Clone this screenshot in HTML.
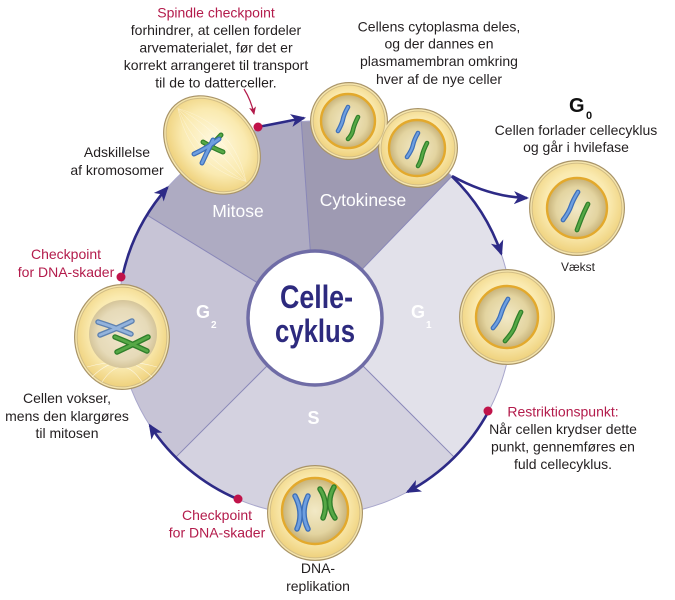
<!DOCTYPE html>
<html><head><meta charset="utf-8">
<style>
html,body{margin:0;padding:0;background:#fff;}
svg{display:block;}
text{font-family:"Liberation Sans",Arial,sans-serif;}
</style></head>
<body>
<svg width="675" height="600" viewBox="0 0 675 600" xmlns="http://www.w3.org/2000/svg">
<defs>
  <radialGradient id="cyt" cx="50%" cy="45%" r="55%">
    <stop offset="0" stop-color="#fff9e0"/>
    <stop offset="0.65" stop-color="#faeab0"/>
    <stop offset="1" stop-color="#efd27e"/>
  </radialGradient>
  <radialGradient id="nuc" cx="50%" cy="50%" r="50%">
    <stop offset="0" stop-color="#f2e9c6"/>
    <stop offset="0.7" stop-color="#e3d4a0"/>
    <stop offset="1" stop-color="#c6b178"/>
  </radialGradient>
  <radialGradient id="nuc2" cx="50%" cy="50%" r="50%">
    <stop offset="0" stop-color="#efe6cc"/>
    <stop offset="0.75" stop-color="#e6dab8"/>
    <stop offset="1" stop-color="#d5c59a"/>
  </radialGradient>
  <marker id="ah" markerWidth="16" markerHeight="14" refX="13" refY="6.5" orient="auto" markerUnits="userSpaceOnUse">
    <path d="M0,0 L15,6.5 L0,13 L4,6.5 Z" fill="#2d2a86"/>
  </marker>
  <marker id="ahr" markerWidth="9" markerHeight="8" refX="7" refY="3.5" orient="auto" markerUnits="userSpaceOnUse">
    <path d="M0,0 L8,3.5 L0,7 L2,3.5 Z" fill="#b31b4b"/>
  </marker>
</defs>

<!-- sectors -->
<path d="M315,318 L147,215.1 A197,197 0 0 1 301.3,121.5 Z" fill="#aeabc2"/>
<path d="M315,318 L301.3,121.5 A197,197 0 0 1 451.9,176.3 Z" fill="#9e9ab2"/>
<path d="M315,318 L451.9,176.3 A197,197 0 0 1 454.3,457.3 Z" fill="#e2e1ea"/>
<path d="M315,318 L454.3,457.3 A197,197 0 0 1 175.7,457.3 Z" fill="#d4d2e0"/>
<path d="M315,318 L175.7,457.3 A197,197 0 0 1 147,215.1 Z" fill="#c7c4d6"/>
<circle cx="315" cy="318" r="197" fill="none" stroke="#a9a7cc" stroke-width="1"/>
<g stroke="#8987b8" stroke-width="1">
  <line x1="315" y1="318" x2="147" y2="215.1"/>
  <line x1="315" y1="318" x2="301.3" y2="121.5"/>
  <line x1="315" y1="318" x2="451.9" y2="176.3"/>
  <line x1="315" y1="318" x2="454.3" y2="457.3"/>
  <line x1="315" y1="318" x2="175.7" y2="457.3"/>
</g>
<circle cx="315" cy="318" r="67" fill="#fff" stroke="#6f6ca6" stroke-width="3.5"/>

<!-- sector labels -->
<g fill="#fff" font-size="17.5">
  <text x="238" y="217" text-anchor="middle">Mitose</text>
  <text x="363" y="206" text-anchor="middle">Cytokinese</text>
  <text x="411" y="318" font-weight="bold" font-size="18">G</text>
  <text x="426" y="328" font-weight="bold" font-size="10">1</text>
  <text x="196" y="318" font-weight="bold" font-size="18">G</text>
  <text x="211" y="328" font-weight="bold" font-size="10">2</text>
  <text x="313.5" y="424" font-weight="bold" font-size="18" text-anchor="middle">S</text>
</g>

<!-- center text -->
<g fill="#2d2a7e" font-weight="bold" font-size="32">
  <text x="280" y="308" textLength="73" lengthAdjust="spacingAndGlyphs">Celle-</text>
  <text x="275" y="342" textLength="80" lengthAdjust="spacingAndGlyphs">cyklus</text>
</g>

<!-- arrows -->
<g fill="none" stroke="#2d2a86" stroke-width="2.6">
  <path d="M122.3,277 A197,197 0 0 1 167.4,187.5" marker-end="url(#ah)"/>
  <path d="M258,127 L304,118" marker-end="url(#ah)"/>
  <path d="M452,176 Q490,197 527,198" marker-end="url(#ah)"/>
  <path d="M451.9,176.3 A197,197 0 0 1 501.3,253.9" marker-end="url(#ah)"/>
  <path d="M488.5,411.4 A197,197 0 0 1 407.5,491.9" marker-end="url(#ah)"/>
  <path d="M238,499.3 A197,197 0 0 1 149.8,425.3" marker-end="url(#ah)"/>
</g>
<path d="M244,89 Q251,100 254,114" fill="none" stroke="#b31b4b" stroke-width="1.2" marker-end="url(#ahr)"/>

<!-- Mitosis cell -->
<g transform="translate(212,145) rotate(47)">
  <ellipse rx="55" ry="43" fill="#a99468"/>
  <ellipse rx="53.8" ry="41.8" fill="#f6e6ae"/>
  <ellipse rx="52.4" ry="40.4" fill="#d2bd85"/>
  <ellipse rx="51.4" ry="39.4" fill="url(#cyt)"/>
  <g stroke="#fff" stroke-width="0.5" fill="none" opacity="0.45">
    <path d="M-50,0 Q0,-30 50,0"/><path d="M-50,0 Q0,-18 50,0"/><path d="M-50,0 L50,0"/>
    <path d="M-50,0 Q0,18 50,0"/><path d="M-50,0 Q0,30 50,0"/>
  </g>
</g>
<g stroke-linecap="round" fill="none">
  <path d="M203,142 Q213,148 223,152" stroke="#2f7f2a" stroke-width="5"/>
  <path d="M221,135 Q212,144 207,152" stroke="#2f7f2a" stroke-width="5"/>
  <path d="M203,142 Q213,148 223,152" stroke="#56a846" stroke-width="2.6"/>
  <path d="M221,135 Q212,144 207,152" stroke="#56a846" stroke-width="2.6"/>
  <path d="M194,154 Q207,148 219,139" stroke="#3d6fb8" stroke-width="5"/>
  <path d="M213,140 Q207,152 202,163" stroke="#3d6fb8" stroke-width="5"/>
  <path d="M194,154 Q207,148 219,139" stroke="#6e9fe0" stroke-width="2.6"/>
  <path d="M213,140 Q207,152 202,163" stroke="#6e9fe0" stroke-width="2.6"/>
</g>

<!-- Cytokinesis cells -->
<g>
  <circle cx="349" cy="121" r="39" fill="#a99468"/><circle cx="418" cy="148" r="40" fill="#a99468"/>
  <circle cx="349" cy="121" r="37.8" fill="#f6e6ae"/><circle cx="418" cy="148" r="38.8" fill="#f6e6ae"/>
  <circle cx="349" cy="121" r="36.4" fill="#d2bd85"/><circle cx="418" cy="148" r="37.4" fill="#d2bd85"/>
  <circle cx="349" cy="121" r="35.4" fill="url(#cyt)"/><circle cx="418" cy="148" r="36.4" fill="url(#cyt)"/>
  <circle cx="348" cy="121" r="27" fill="url(#nuc)" stroke="#e3a92c" stroke-width="2.4"/>
  <circle cx="417" cy="148" r="28" fill="url(#nuc)" stroke="#e3a92c" stroke-width="2.4"/>
  <g stroke-linecap="round" fill="none">
    <path d="M348,107 Q344,114 343,119 T338,131" stroke="#3d6fb8" stroke-width="4.6"/>
    <path d="M348,107 Q344,114 343,119 T338,131" stroke="#6e9fe0" stroke-width="2.2"/>
    <path d="M358,117 Q354,125 353,130 T348,139" stroke="#2f7f2a" stroke-width="4.6"/>
    <path d="M358,117 Q354,125 353,130 T348,139" stroke="#56a846" stroke-width="2.2"/>
    <path d="M418,133 Q414,140 413,145 T407,157" stroke="#3d6fb8" stroke-width="4.6"/>
    <path d="M418,133 Q414,140 413,145 T407,157" stroke="#6e9fe0" stroke-width="2.2"/>
    <path d="M427,143 Q423,151 422,156 T418,166" stroke="#2f7f2a" stroke-width="4.6"/>
    <path d="M427,143 Q423,151 422,156 T418,166" stroke="#56a846" stroke-width="2.2"/>
  </g>
</g>

<!-- G0 cell -->
<g transform="translate(577,208)">
  <circle r="48" fill="#a99468"/><circle r="46.8" fill="#f6e6ae"/><circle r="45.4" fill="#d2bd85"/><circle r="44.4" fill="url(#cyt)"/>
  <circle r="30" fill="url(#nuc)" stroke="#e3a92c" stroke-width="2.4"/>
  <g stroke-linecap="round" fill="none">
    <path d="M1,-16 Q-4,-8 -6,-2 T-14,12" stroke="#3d6fb8" stroke-width="4.8"/>
    <path d="M1,-16 Q-4,-8 -6,-2 T-14,12" stroke="#6e9fe0" stroke-width="2.3"/>
    <path d="M11,-4 Q7,4 5,9 T0,22" stroke="#2f7f2a" stroke-width="4.8"/>
    <path d="M11,-4 Q7,4 5,9 T0,22" stroke="#56a846" stroke-width="2.3"/>
  </g>
</g>

<!-- G1 cell -->
<g transform="translate(507,317)">
  <circle r="48" fill="#a99468"/><circle r="46.8" fill="#f6e6ae"/><circle r="45.4" fill="#d2bd85"/><circle r="44.4" fill="url(#cyt)"/>
  <circle r="31" fill="url(#nuc)" stroke="#e3a92c" stroke-width="2.4"/>
  <g stroke-linecap="round" fill="none">
    <path d="M1,-18 Q-4,-10 -6,-3 T-14,11" stroke="#3d6fb8" stroke-width="4.8"/>
    <path d="M1,-18 Q-4,-10 -6,-3 T-14,11" stroke="#6e9fe0" stroke-width="2.3"/>
    <path d="M14,-5 Q10,3 8,9 T-2,24" stroke="#2f7f2a" stroke-width="4.8"/>
    <path d="M14,-5 Q10,3 8,9 T-2,24" stroke="#56a846" stroke-width="2.3"/>
  </g>
</g>

<!-- S cell -->
<g transform="translate(315,513)">
  <circle r="48" fill="#a99468"/><circle r="46.8" fill="#f6e6ae"/><circle r="45.4" fill="#d2bd85"/><circle r="44.4" fill="url(#cyt)"/>
  <circle r="33" cy="-2" fill="url(#nuc)" stroke="#e3a92c" stroke-width="2.4"/>
  <g stroke-linecap="round" fill="none">
    <path d="M-20,-17 Q-11,0 -18,16" stroke="#3d6fb8" stroke-width="5.5"/>
    <path d="M-7,-17 Q-15,0 -7,16" stroke="#3d6fb8" stroke-width="5.5"/>
    <path d="M-20,-17 Q-11,0 -18,16" stroke="#6e9fe0" stroke-width="2.8"/>
    <path d="M-7,-17 Q-15,0 -7,16" stroke="#6e9fe0" stroke-width="2.8"/>
    <path d="M5,-24 Q14,-10 8,5" stroke="#2f7f2a" stroke-width="5.5"/>
    <path d="M19,-26 Q10,-10 20,5" stroke="#2f7f2a" stroke-width="5.5"/>
    <path d="M5,-24 Q14,-10 8,5" stroke="#56a846" stroke-width="2.8"/>
    <path d="M19,-26 Q10,-10 20,5" stroke="#56a846" stroke-width="2.8"/>
  </g>
</g>

<!-- G2 cell -->
<g transform="translate(122,337)">
  <ellipse rx="48" ry="53" fill="#a99468"/><ellipse rx="46.8" ry="51.8" fill="#f6e6ae"/>
  <ellipse rx="45.4" ry="50.4" fill="#d2bd85"/><ellipse rx="44.4" ry="49.4" fill="url(#cyt)"/>
  <g stroke="#fff" stroke-width="0.6" fill="none" opacity="0.7">
    <path d="M-30,40 Q0,10 30,40"/><path d="M-20,45 Q0,15 20,45"/><path d="M-35,30 Q0,20 35,30"/>
  </g>
  <circle cx="1" cy="-3" r="34" fill="url(#nuc2)"/>
  <g stroke-linecap="round" fill="none">
    <path d="M-24,-15 Q-8,-10 9,-3" stroke="#5f82b0" stroke-width="5.5"/>
    <path d="M-22,-2 Q-6,-8 10,-16" stroke="#5f82b0" stroke-width="5.5"/>
    <path d="M-24,-15 Q-8,-10 9,-3" stroke="#93b3dc" stroke-width="2.8"/>
    <path d="M-22,-2 Q-6,-8 10,-16" stroke="#93b3dc" stroke-width="2.8"/>
    <path d="M-7,0 Q8,6 25,14" stroke="#2f7f2a" stroke-width="5.5"/>
    <path d="M-5,15 Q10,8 26,0" stroke="#2f7f2a" stroke-width="5.5"/>
    <path d="M-7,0 Q8,6 25,14" stroke="#56a846" stroke-width="2.8"/>
    <path d="M-5,15 Q10,8 26,0" stroke="#56a846" stroke-width="2.8"/>
  </g>
</g>

<!-- checkpoint dots -->
<g fill="#c0134a">
  <circle cx="121" cy="277" r="4.5"/>
  <circle cx="258" cy="127" r="4.5"/>
  <circle cx="488" cy="411" r="4.5"/>
  <circle cx="238" cy="499" r="4.5"/>
</g>

<!-- labels -->
<g font-size="14" fill="#231f20" text-anchor="middle">
  <text x="216" y="17.5" fill="#b31b4b">Spindle checkpoint</text>
  <text x="216" y="35">forhindrer, at cellen fordeler</text>
  <text x="216" y="52.5">arvematerialet, før det er</text>
  <text x="216" y="70">korrekt arrangeret til transport</text>
  <text x="216" y="87.5">til de to datterceller.</text>

  <text x="117" y="157">Adskillelse</text>
  <text x="117" y="175">af kromosomer</text>

  <text x="439" y="31.5">Cellens cytoplasma deles,</text>
  <text x="439" y="48.5">og der dannes en</text>
  <text x="439" y="66">plasmamembran omkring</text>
  <text x="439" y="84">hver af de nye celler</text>

  <text x="576" y="135">Cellen forlader cellecyklus</text>
  <text x="576" y="152">og går i hvilefase</text>
  <text x="578" y="271" font-size="12">Vækst</text>

  <text x="66" y="259" fill="#b31b4b">Checkpoint</text>
  <text x="66" y="277" fill="#b31b4b">for DNA-skader</text>

  <text x="67" y="403">Cellen vokser,</text>
  <text x="67" y="421">mens den klargøres</text>
  <text x="67" y="438">til mitosen</text>

  <text x="217" y="520" fill="#b31b4b">Checkpoint</text>
  <text x="217" y="537.5" fill="#b31b4b">for DNA-skader</text>

  <text x="318" y="573">DNA-</text>
  <text x="318" y="591">replikation</text>

  <text x="563" y="416.5" fill="#b31b4b">Restriktionspunkt:</text>
  <text x="563" y="434">Når cellen krydser dette</text>
  <text x="563" y="451.5">punkt, gennemføres en</text>
  <text x="563" y="469">fuld cellecyklus.</text>
</g>
<text x="569" y="112" font-size="20" font-weight="bold" fill="#111">G</text>
<text x="586" y="119" font-size="11" font-weight="bold" fill="#111">0</text>
</svg>
</body></html>
